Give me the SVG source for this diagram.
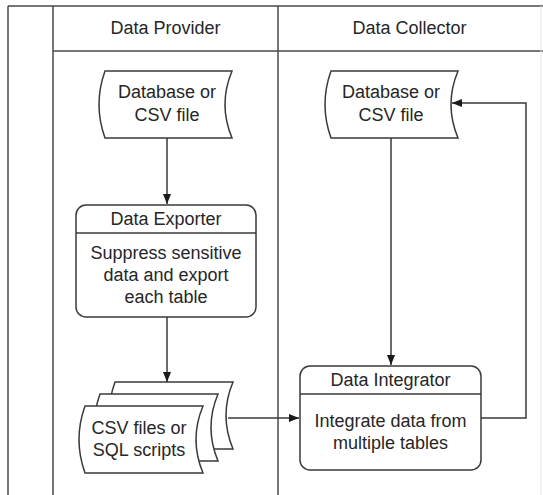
<svg xmlns="http://www.w3.org/2000/svg" width="543" height="495" viewBox="0 0 543 495">
<style>
text{font-family:"Liberation Sans",Arial,sans-serif;font-size:18px;fill:#262626;text-anchor:middle}
.lane{stroke:#4a4a4a;stroke-width:1.5;fill:none}
.shape{fill:#fff;stroke:#3a3a3a;stroke-width:1.5}
.conn{fill:none;stroke:#3a3a3a;stroke-width:1.5}
</style>
<defs>
<path id="db" d="M0,0 H127 Q113,33.5 127,67 H0 Q-12,33.5 0,0 Z"/>
<path id="doc" d="M0,0 H118 Q104,33.5 118,67 H0 Q-12,33.5 0,0 Z"/>
<marker id="arr" markerWidth="10" markerHeight="8" refX="10" refY="4" orient="auto" markerUnits="userSpaceOnUse">
<path d="M0,0 L10,4 L0,8 Z" fill="#1a1a1a"/>
</marker>
</defs>
<rect width="543" height="495" fill="#fff"/>
<g id="lanes">
<line class="lane" x1="8" y1="6" x2="543" y2="6"/>
<line class="lane" x1="8" y1="6" x2="8" y2="495"/>
<line class="lane" x1="53" y1="6" x2="53" y2="495"/>
<line class="lane" x1="278" y1="6" x2="278" y2="495"/>
<line class="lane" x1="53" y1="51" x2="543" y2="51"/>
<line x1="541" y1="6" x2="541" y2="495" stroke="#e6e6e6" stroke-width="1"/>
<text x="165.5" y="34">Data Provider</text>
<text x="409.5" y="34">Data Collector</text>
</g>
<g id="connectors">
<line class="conn" x1="167" y1="138" x2="167" y2="204" marker-end="url(#arr)"/>
<line class="conn" x1="167" y1="317" x2="167" y2="382" marker-end="url(#arr)"/>
<line class="conn" x1="391" y1="138" x2="391" y2="365" marker-end="url(#arr)"/>
<line class="conn" x1="228" y1="418" x2="299" y2="418" marker-end="url(#arr)"/>
<polyline class="conn" points="481,418 526,418 526,103 452,103" marker-end="url(#arr)"/>
</g>
<g id="db-provider">
<use href="#db" x="105" y="71" class="shape"/>
<text x="167" y="98">Database or</text>
<text x="167" y="121">CSV file</text>
</g>
<g id="db-collector">
<use href="#db" x="331" y="71" class="shape"/>
<text x="391" y="98">Database or</text>
<text x="391" y="121">CSV file</text>
</g>
<g id="data-exporter">
<rect class="shape" x="76" y="205" width="180" height="112" rx="10"/>
<line class="conn" x1="76" y1="233" x2="256" y2="233"/>
<text x="166" y="225">Data Exporter</text>
<text x="166" y="259">Suppress sensitive</text>
<text x="166" y="281">data and export</text>
<text x="166" y="303">each table</text>
</g>
<g id="csv-files">
<use href="#doc" x="115" y="382" class="shape"/>
<use href="#doc" x="100" y="394" class="shape"/>
<use href="#doc" x="85" y="406" class="shape"/>
<text x="139" y="434">CSV files or</text>
<text x="139" y="456">SQL scripts</text>
</g>
<g id="data-integrator">
<rect class="shape" x="300" y="366" width="181" height="104" rx="10"/>
<line class="conn" x1="300" y1="394" x2="481" y2="394"/>
<text x="390.5" y="386">Data Integrator</text>
<text x="390.5" y="427">Integrate data from</text>
<text x="390.5" y="449">multiple tables</text>
</g>
</svg>
